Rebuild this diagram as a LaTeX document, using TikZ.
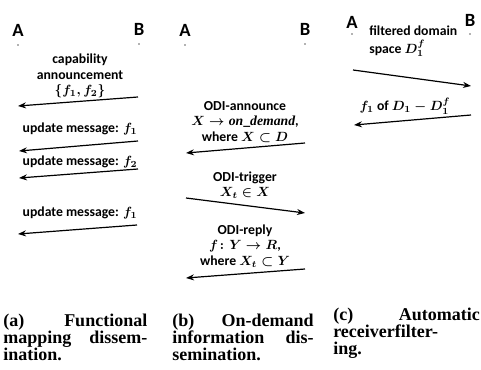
\documentclass[tikz,border=0pt]{standalone}
\usepackage{amsmath}
\usepackage{amssymb}
\usepackage{fontspec}
\setmainfont{Liberation Serif}
\setsansfont{Carlito}
\usetikzlibrary{arrows.meta,positioning}
\newcommand{\odimsg}[1]{\sffamily\bfseries\boldmath #1}

\tikzset{
  party/.style={font=\sffamily\bfseries\fontsize{14}{16}\selectfont, inner sep=0pt},
  lifedot/.style={fill=black!60, circle, inner sep=0pt, minimum size=1.2pt},
  msgtext/.style={font=\odimsg{\fontsize{10.3}{11.5}\selectfont}, align=center, inner sep=0pt},
  msgarrow/.style={-{Stealth[length=6pt,width=4.5pt]}, line width=0.9pt},
  subcap/.style={font=\bfseries\fontsize{13.5}{13}\selectfont, text width=#1,
                 align=justify, inner sep=0pt, anchor=base west}
}

\begin{document}
\begin{tikzpicture}[x=0.75pt, y=-0.75pt]
  \useasboundingbox (0,0) rectangle (481,370);

  % (a) functional mapping dissemination
  \node[party] (aA) at (18,30) {A};
  \node[party] (aB) at (139,29) {B};
  \node[lifedot] (aAdot) at (18,45) {};
  \node[lifedot] (aBdot) at (139,44) {};
  \node[msgtext] (aCap) at (80,76) {capability\\announcement\\$\{f_1, f_2\}$};
  \coordinate (a1s) at (138,97);  \coordinate (a1e) at (18,106);
  \draw[msgarrow] (a1s) -- (a1e);
  \node[msgtext] (aUpd1) at (80,129) {update message: $f_1$};
  \coordinate (a2s) at (138,141); \coordinate (a2e) at (19,151);
  \draw[msgarrow] (a2s) -- (a2e);
  \node[msgtext] (aUpd2) at (80,162) {update message: $f_2$};
  \coordinate (a3s) at (138,169); \coordinate (a3e) at (19,178);
  \draw[msgarrow] (a3s) -- (a3e);
  \node[msgtext] (aUpd3) at (80,213) {update message: $f_1$};
  \coordinate (a4s) at (137,225); \coordinate (a4e) at (18,234);
  \draw[msgarrow] (a4s) -- (a4e);

  % (b) on-demand information dissemination
  \node[party] (bA) at (185,30) {A};
  \node[party] (bB) at (305,29) {B};
  \node[lifedot] (bAdot) at (185,45) {};
  \node[lifedot] (bBdot) at (305,44) {};
  \node[msgtext] (bAnn) at (245,122)
    {ODI-announce\\$X \rightarrow \mathit{on\_demand}$,\\where $X \subset D$};
  \coordinate (b1s) at (305,143); \coordinate (b1e) at (186,153);
  \draw[msgarrow] (b1s) -- (b1e);
  \node[msgtext] (bTrig) at (245,185) {ODI-trigger\\$X_t \in X$};
  \coordinate (b2s) at (186,198); \coordinate (b2e) at (305,213);
  \draw[msgarrow] (b2s) -- (b2e);
  \node[msgtext] (bRep) at (245,246)
    {ODI-reply\\$f\colon Y \rightarrow R$,\\where $X_t \subset Y$};
  \coordinate (b3s) at (305,269); \coordinate (b3e) at (186,278);
  \draw[msgarrow] (b3s) -- (b3e);

  % (c) automatic receiver filtering
  \node[party] (cA) at (352,22) {A};
  \node[party] (cB) at (470,20) {B};
  \node[lifedot] (cAdot) at (352,34) {};
  \node[lifedot] (cBdot) at (470,34) {};
  \node[msgtext, align=left, anchor=west] (cFilt) at (369,41) {filtered domain\\[2pt]space $D_1^f$};
  \coordinate (c1s) at (353,70); \coordinate (c1e) at (471,86);
  \draw[msgarrow] (c1s) -- (c1e);
  \node[msgtext] (cRest) at (405,106) {$f_1$ of $D_1 - D_1^f$};
  \coordinate (c2s) at (471,115); \coordinate (c2e) at (354,125);
  \draw[msgarrow] (c2s) -- (c2e);

  % sub-captions
  \node[subcap=108pt] (capA) at (3,326) {(a) Functional\linebreak mapping dissem-\linebreak ination.};
  \node[subcap=106pt] (capB) at (172,326) {(b) On-demand\linebreak information dis-\linebreak semination.};
  \node[subcap=110pt] (capC) at (333,320) {(c) Automatic\linebreak receiverfilter-\\ing.};
\end{tikzpicture}
\end{document}
